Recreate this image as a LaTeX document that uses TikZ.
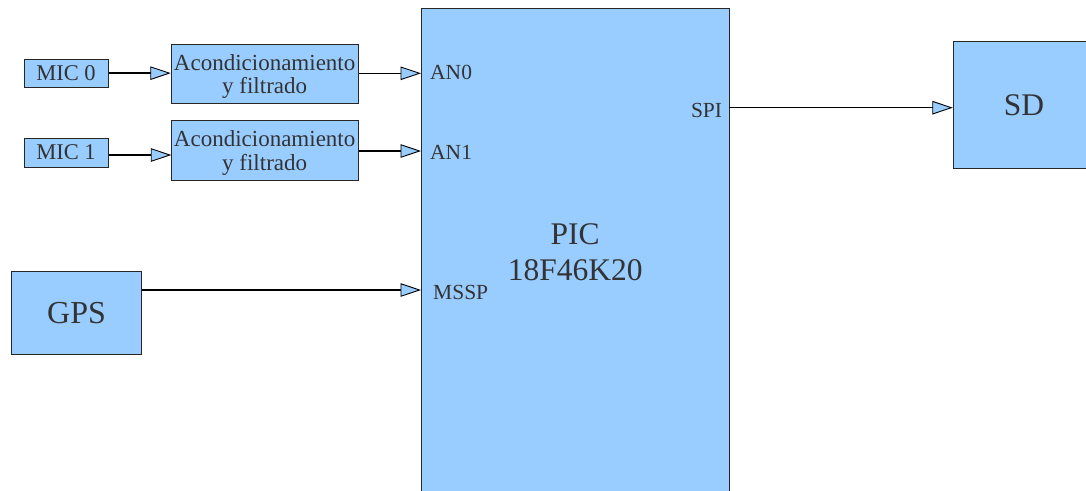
\documentclass[tikz,border=0pt]{standalone}
\usepackage{fontspec}
\setmainfont{Liberation Serif}
\usetikzlibrary{arrows.meta}
\definecolor{boxblue}{HTML}{99CCFF}
\definecolor{txt}{HTML}{333333}
\begin{document}
\begin{tikzpicture}[x=1pt,y=-1pt,
  box/.style={draw=black!85, line width=1pt, fill=boxblue, text=txt, inner sep=0pt, align=center, rectangle},
  small/.style={font=\fontsize{22.5}{23.3}\selectfont},
  acond/.style={font=\fontsize{23}{23.3}\selectfont},
  big/.style={font=\fontsize{31.5}{36}\selectfont},
  conn/.style={draw=black, line width=1.4pt, -{Triangle[length=20.5pt,width=13.5pt,fill=boxblue,line width=0.9pt]}},
  port/.style={text=txt, inner sep=0pt, font=\fontsize{21.5}{24}\selectfont}
]
\useasboundingbox (0,0) rectangle (1086,490);
\clip (0,0) rectangle (1086,490);

% boxes
\node[box, small, minimum width=84pt, minimum height=28.3pt] (mic0) at (66,73.15) {MIC 0};
\node[box, small, minimum width=84pt, minimum height=28.7pt] (mic1) at (66,152.65) {MIC 1};
\node[box, acond, minimum width=186.7pt, minimum height=59.3pt] (ac0) at (264.65,73.65) {\rule{0pt}{21pt}Acondicionamiento\\y filtrado};
\node[box, acond, minimum width=186.7pt, minimum height=60.4pt] (ac1) at (264.65,150.5) {\rule{0pt}{21pt}Acondicionamiento\\y filtrado};
\node[box, big, minimum width=308.3pt, minimum height=488.4pt] (pic) at (575.15,252.5) {PIC\\18F46K20};
\node[box, big, font=\fontsize{32}{36}\selectfont, minimum width=130.4pt, minimum height=83.3pt] (gps) at (76.5,312.65) {GPS};
\node[box, big, minimum width=141.4pt, minimum height=126.3pt] (sd) at (1024,104.85) {SD};

% ports
\coordinate (in1) at (171.3,155);
\coordinate (pAN0) at (421,73.3);
\coordinate (pAN1) at (421,151);
\coordinate (pMSSP) at (421,290);
\coordinate (pSPI) at (729.3,107.7);

% connectors
\draw[conn] (mic0.east) -- (mic0.east -| ac0.west);
\draw[conn] (mic1.east |- in1) -- (in1);
\draw[conn] (ac0.east |- pAN0) -- (pAN0);
\draw[conn] (ac1.east |- pAN1) -- (pAN1);
\draw[conn] (gps.east |- pMSSP) -- (pMSSP);
\draw[conn] (pSPI) -- (sd.west |- pSPI);

% port labels
\node[port, anchor=base west] (lan0) at (430,79) {AN0};
\node[port, anchor=base west] (lan1) at (430,159) {AN1};
\node[port, anchor=base west] (lmssp) at (433,299.3) {MSSP};
\node[port, anchor=base east] (lspi) at (722.3,117.3) {SPI};
\end{tikzpicture}
\end{document}
